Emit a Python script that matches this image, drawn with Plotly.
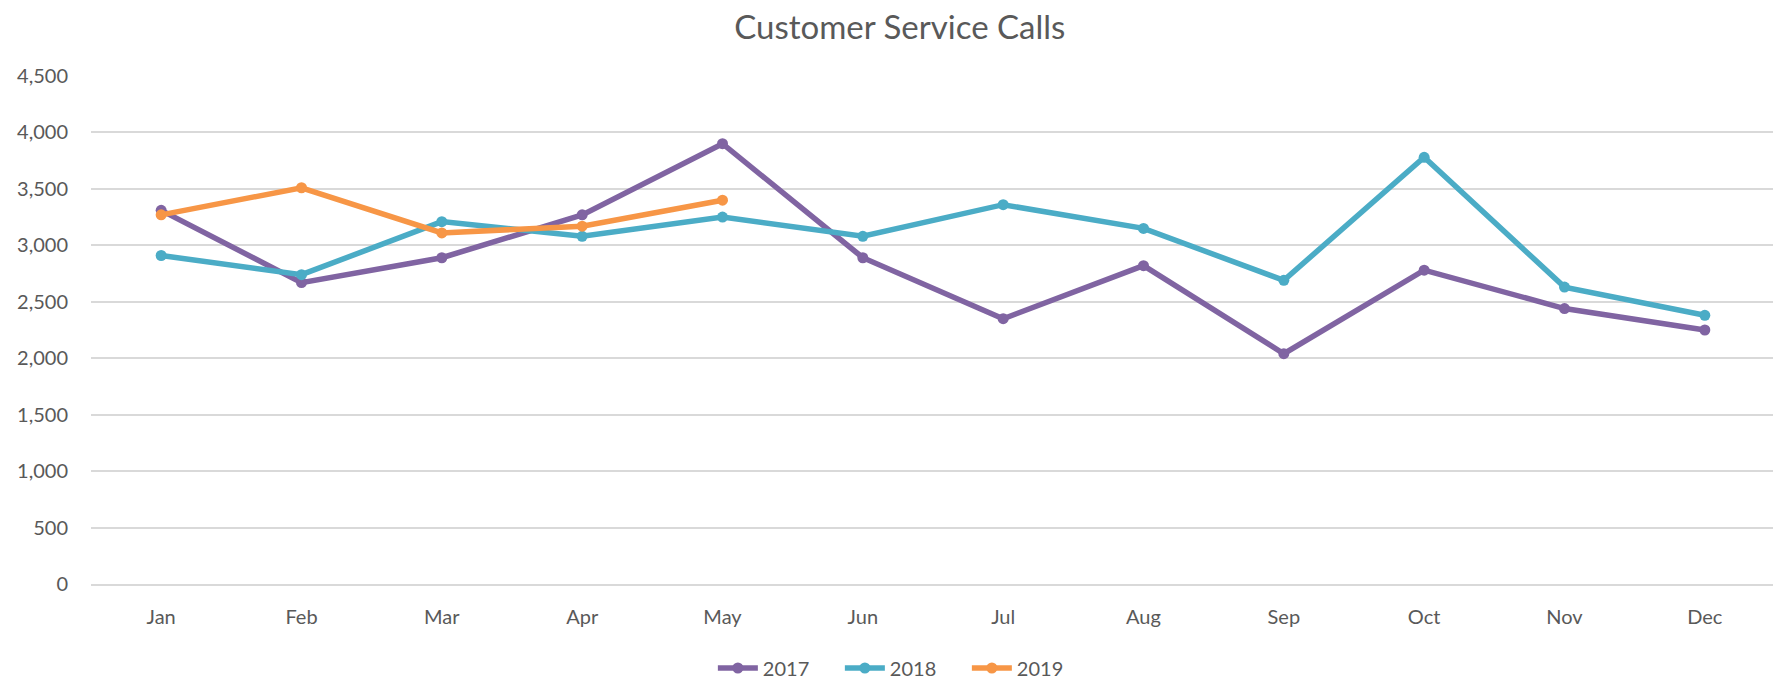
import plotly.graph_objects as go

months = ["Jan", "Feb", "Mar", "Apr", "May", "Jun", "Jul", "Aug", "Sep", "Oct", "Nov", "Dec"]
calls_2017 = [3310, 2670, 2890, 3270, 3900, 2890, 2350, 2820, 2040, 2780, 2440, 2250]
calls_2018 = [2910, 2740, 3210, 3080, 3250, 3080, 3360, 3150, 2690, 3780, 2630, 2380]
calls_2019 = [3270, 3510, 3110, 3170, 3400]
y_ticks = [0, 500, 1000, 1500, 2000, 2500, 3000, 3500, 4000, 4500]

series = [
    ("2017", calls_2017, "#8064A2"),
    ("2018", calls_2018, "#4BACC6"),
    ("2019", calls_2019, "#F79646"),
]

W, H = 1773, 673
FONT = "Lato"
fig = go.Figure()
for name, vals, color in series:
    fig.add_trace(go.Scatter(
        x=months[:len(vals)], y=vals, name=name, mode="lines+markers",
        line=dict(color=color, width=5.5),
        marker=dict(color=color, size=11),
    ))

fig.update_layout(
    width=W, height=H,
    paper_bgcolor="white", plot_bgcolor="white",
    margin=dict(l=83, r=6, t=68, b=97),
    title=dict(text="Customer Service Calls", x=0.503, xanchor="center",
               y=1 - 19 / H, yanchor="middle", yref="container",
               font=dict(family=FONT, size=33, color="#595959")),
    font=dict(family=FONT, size=20, color="#595959"),
    xaxis=dict(categoryorder="array", categoryarray=months, range=[-0.5, 11.5],
               showgrid=False, showline=True, linecolor="#D9D9D9", linewidth=1.5,
               ticks="", ticklabelstandoff=14, tickfont=dict(size=20, color="#595959")),
    yaxis=dict(range=[0, 4500], tickvals=y_ticks, tickformat=",d",
               showgrid=True, gridcolor="#D9D9D9", gridwidth=1.5,
               zeroline=False, showline=False, ticks="", ticklabelstandoff=22,
               tickfont=dict(size=20, color="#595959")),
    legend=dict(orientation="h", xref="container", yref="container",
                x=0.505, xanchor="center", y=1 - 660 / H, yanchor="middle",
                entrywidth=72, entrywidthmode="pixels", itemwidth=40,
                font=dict(size=20, color="#595959")),
    showlegend=True,
)

fig.write_html("out.html")
